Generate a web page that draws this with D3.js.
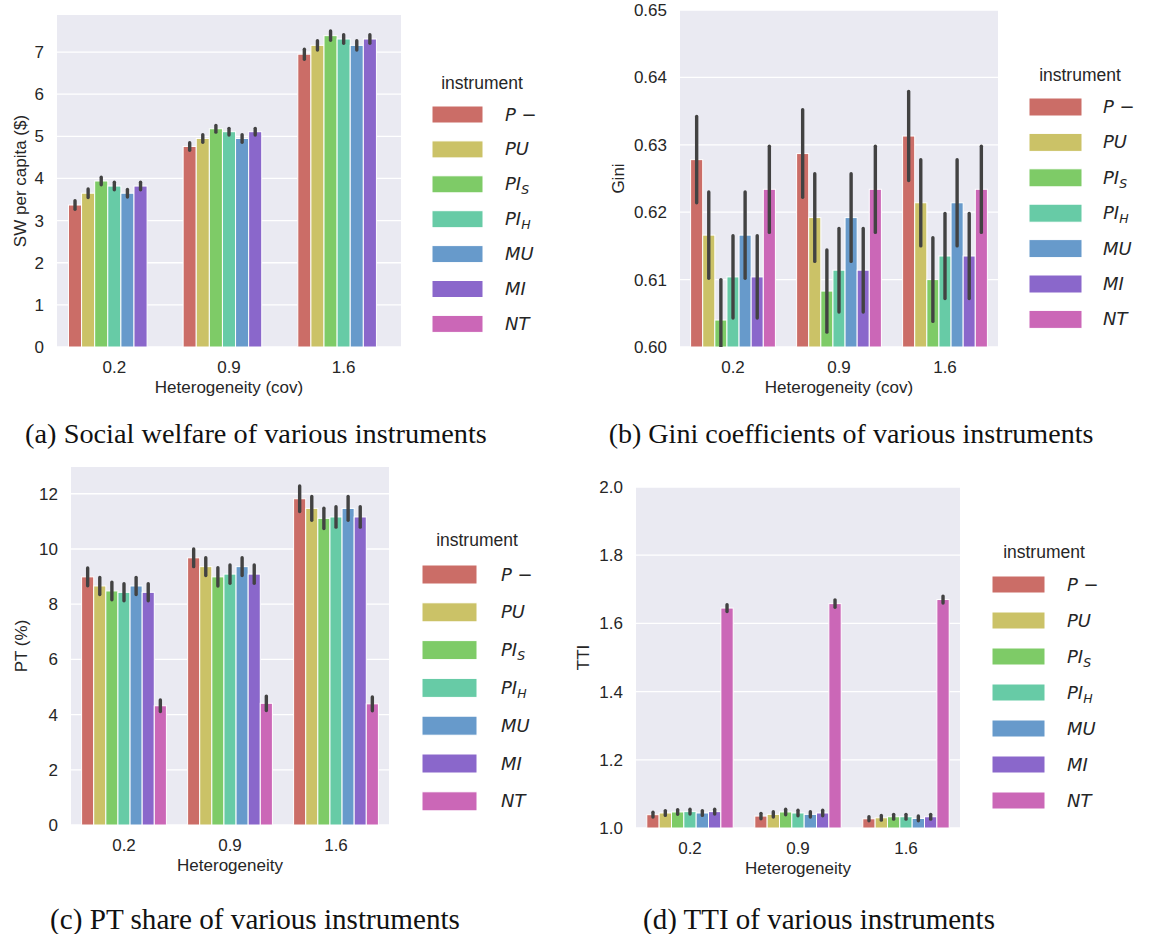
<!DOCTYPE html>
<html>
<head>
<meta charset="utf-8">
<script src="https://cdn.jsdelivr.net/npm/d3@7"></script>
<style>
  html, body { margin: 0; padding: 0; background: #fff; }
  svg { display: block; }
  .tick text { font-family: "Liberation Sans", Arial, sans-serif; }
</style>
</head>
<body>
<svg id="fig" width="1151" height="934"></svg>
<script>
// Categories and series
const groups = ["0.2", "0.9", "1.6"];
const instruments = ["P-", "PU", "PI_S", "PI_H", "MU", "MI", "NT"];
// legend text: [main, subscript]
const instrumentLabels = [["P \u2212", ""], ["PU", ""], ["PI", "S"], ["PI", "H"], ["MU", ""], ["MI", ""], ["NT", ""]];
const palette = ["#cb6d67", "#cbc267", "#7ecb67", "#67cba6", "#679acb", "#8a67cb", "#cb67b7"];

// (a) social welfare per capita, one row per heterogeneity level (NT not reported)
const swMean = [
  [3.37, 3.65, 3.94, 3.82, 3.65, 3.82, null],
  [4.76, 4.95, 5.18, 5.11, 4.95, 5.11, null],
  [6.95, 7.16, 7.39, 7.31, 7.16, 7.31, null]
];
const swErr = [
  [0.10, 0.10, 0.09, 0.09, 0.09, 0.09, null],
  [0.09, 0.09, 0.08, 0.08, 0.09, 0.08, null],
  [0.12, 0.11, 0.11, 0.10, 0.11, 0.10, null]
];
const swTicks = [0, 1, 2, 3, 4, 5, 6, 7];

// (b) Gini coefficients
const giniMean = [
  [0.6278, 0.6166, 0.6040, 0.6104, 0.6166, 0.6104, 0.6234],
  [0.6287, 0.6192, 0.6083, 0.6114, 0.6192, 0.6114, 0.6234],
  [0.6313, 0.6214, 0.6100, 0.6135, 0.6214, 0.6135, 0.6234]
];
const giniErr = [
  [0.0064, 0.0064, 0.0060, 0.0061, 0.0064, 0.0061, 0.0064],
  [0.0065, 0.0065, 0.0061, 0.0062, 0.0065, 0.0062, 0.0064],
  [0.0066, 0.0064, 0.0062, 0.0063, 0.0064, 0.0063, 0.0064]
];
const giniTicks = [0.60, 0.61, 0.62, 0.63, 0.64, 0.65];

// (c) PT share (%)
const ptMean = [
  [8.99, 8.66, 8.48, 8.43, 8.66, 8.43, 4.32],
  [9.68, 9.36, 8.99, 9.09, 9.36, 9.09, 4.41],
  [11.82, 11.47, 11.11, 11.16, 11.47, 11.16, 4.39]
];
const ptErr = [
  [0.32, 0.31, 0.32, 0.31, 0.31, 0.31, 0.21],
  [0.32, 0.32, 0.33, 0.33, 0.32, 0.33, 0.26],
  [0.46, 0.43, 0.37, 0.37, 0.43, 0.37, 0.25]
];
const ptTicks = [0, 2, 4, 6, 8, 10, 12];

// (d) TTI
const ttiMean = [
  [1.039, 1.044, 1.047, 1.048, 1.044, 1.048, 1.645],
  [1.035, 1.040, 1.047, 1.044, 1.040, 1.044, 1.658],
  [1.027, 1.030, 1.033, 1.033, 1.028, 1.033, 1.670]
];
const ttiErr = [
  [0.007, 0.007, 0.007, 0.007, 0.007, 0.007, 0.010],
  [0.008, 0.008, 0.008, 0.008, 0.008, 0.008, 0.011],
  [0.006, 0.007, 0.007, 0.007, 0.007, 0.007, 0.010]
];
const ttiTicks = [1.0, 1.2, 1.4, 1.6, 1.8, 2.0];

const SANS = '"Liberation Sans", Arial, sans-serif';
const MATH = '"DejaVu Sans", sans-serif';
const SERIF = '"Liberation Serif", "Times New Roman", serif';
const BG = "#eaeaf2";
const ERR = "#424242";

const svg = d3.select("#fig");

const panels = [
  {
    id: "a", mean: swMean, err: swErr, ticks: swTicks, fmt: d3.format("d"),
    domain: [0, 7.88], ylabel: "SW per capita ($)", xlabel: "Heterogeneity (cov)",
    box: { x0: 57, x1: 401, y0: 15, y1: 347 }, ylabX: 20,
    legend: { titleX: 482, titleY: 89, patchX: 432, patchW: 51, patchY0: 106, patchH: 17, step: 34.9, labelX: 505 },
    caption: { text: "(a) Social welfare of various instruments", cx: 256, y: 443, width: 462 }
  },
  {
    id: "b", mean: giniMean, err: giniErr, ticks: giniTicks, fmt: d3.format(".2f"),
    domain: [0.60, 0.65], ylabel: "Gini", xlabel: "Heterogeneity (cov)",
    box: { x0: 680, x1: 998, y0: 10, y1: 347 }, ylabX: 618,
    legend: { titleX: 1080, titleY: 81, patchX: 1029, patchW: 53, patchY0: 98, patchH: 18, step: 35.4, labelX: 1103 },
    caption: { text: "(b) Gini coefficients of various instruments", cx: 851, y: 443, width: 485 }
  },
  {
    id: "c", mean: ptMean, err: ptErr, ticks: ptTicks, fmt: d3.format("d"),
    domain: [0, 12.97], ylabel: "PT (%)", xlabel: "Heterogeneity",
    box: { x0: 71, x1: 389, y0: 467, y1: 825 }, ylabX: 21,
    legend: { titleX: 477, titleY: 546, patchX: 422, patchW: 55, patchY0: 565, patchH: 19, step: 37.8, labelX: 501 },
    caption: { text: "(c) PT share of various instruments", cx: 255, y: 929, width: 410 }
  },
  {
    id: "d", mean: ttiMean, err: ttiErr, ticks: ttiTicks, fmt: d3.format(".1f"),
    domain: [1.0, 2.0], ylabel: "TTI", xlabel: "Heterogeneity",
    box: { x0: 636, x1: 960, y0: 487, y1: 828 }, ylabX: 583,
    legend: { titleX: 1044, titleY: 558, patchX: 992, patchW: 53, patchY0: 576, patchH: 17, step: 36, labelX: 1067 },
    caption: { text: "(d) TTI of various instruments", cx: 819, y: 929, width: 352 }
  }
];

panels.forEach(p => drawPanel(p));

function drawPanel(p) {
  const b = p.box;
  const x = d3.scaleBand().domain(groups).range([b.x0, b.x1]).paddingInner(0.2).paddingOuter(0.1);
  const xi = d3.scaleBand().domain(instruments).range([0, x.bandwidth()]);
  const y = d3.scaleLinear().domain(p.domain).range([b.y1, b.y0]);

  const g = svg.append("g").attr("class", "panel-" + p.id);

  // plot background
  g.append("rect").attr("x", b.x0).attr("y", b.y0)
    .attr("width", b.x1 - b.x0).attr("height", b.y1 - b.y0).attr("fill", BG);

  // horizontal grid
  g.append("g").selectAll("line").data(p.ticks).join("line")
    .attr("x1", b.x0).attr("x2", b.x1)
    .attr("y1", d => y(d)).attr("y2", d => y(d))
    .attr("stroke", "#fff").attr("stroke-width", 1.3);

  const clipId = "clip-" + p.id;
  g.append("clipPath").attr("id", clipId).append("rect")
    .attr("x", b.x0).attr("y", b.y0).attr("width", b.x1 - b.x0).attr("height", b.y1 - b.y0);

  const cells = [];
  groups.forEach((grp, gi) => {
    instruments.forEach((ins, ii) => {
      const v = p.mean[gi][ii];
      if (v == null) return;
      cells.push({ grp, ins, ii, v, e: p.err[gi][ii] });
    });
  });

  const plot = g.append("g").attr("clip-path", `url(#${clipId})`);
  plot.selectAll("rect.bar").data(cells).join("rect")
    .attr("class", "bar")
    .attr("x", d => x(d.grp) + xi(d.ins))
    .attr("width", xi.bandwidth())
    .attr("y", d => y(d.v))
    .attr("height", d => y(p.domain[0]) - y(d.v))
    .attr("fill", d => palette[d.ii])
    .attr("stroke", "#fff").attr("stroke-width", 1);

  plot.selectAll("line.err").data(cells).join("line")
    .attr("class", "err")
    .attr("x1", d => x(d.grp) + xi(d.ins) + xi.bandwidth() / 2)
    .attr("x2", d => x(d.grp) + xi(d.ins) + xi.bandwidth() / 2)
    .attr("y1", d => y(d.v - d.e)).attr("y2", d => y(d.v + d.e))
    .attr("stroke", ERR).attr("stroke-width", 3.4).attr("stroke-linecap", "round");

  // axes
  const yAxis = d3.axisLeft(y).tickValues(p.ticks).tickFormat(p.fmt).tickSize(0).tickPadding(13);
  const ya = g.append("g").attr("transform", `translate(${b.x0},0)`).call(yAxis);
  ya.select(".domain").remove();
  ya.selectAll("text").attr("font-size", 17).attr("fill", "#262626").style("font-family", SANS);

  const xAxis = d3.axisBottom(x).tickSize(0).tickPadding(14);
  const xa = g.append("g").attr("transform", `translate(0,${b.y1})`).call(xAxis);
  xa.select(".domain").remove();
  xa.selectAll("text").attr("font-size", 17).attr("fill", "#262626").style("font-family", SANS);

  g.append("text")
    .attr("x", (b.x0 + b.x1) / 2).attr("y", b.y1 + 46)
    .attr("text-anchor", "middle").attr("font-size", 17).attr("fill", "#262626")
    .style("font-family", SANS).text(p.xlabel);

  g.append("text")
    .attr("transform", `translate(${p.ylabX + 6},${(b.y0 + b.y1) / 2}) rotate(-90)`)
    .attr("text-anchor", "middle").attr("font-size", 17).attr("fill", "#262626")
    .style("font-family", SANS).text(p.ylabel);

  // legend
  const L = p.legend;
  const lg = g.append("g").attr("class", "legend");
  lg.append("text").attr("x", L.titleX).attr("y", L.titleY)
    .attr("text-anchor", "middle").attr("font-size", 17.5).attr("fill", "#262626")
    .style("font-family", SANS).text("instrument");
  const items = lg.selectAll("g.item").data(instruments).join("g").attr("class", "item")
    .attr("transform", (d, i) => `translate(0,${L.patchY0 + i * L.step})`);
  items.append("rect").attr("x", L.patchX).attr("y", 0)
    .attr("width", L.patchW).attr("height", L.patchH)
    .attr("fill", (d, i) => palette[i]).attr("stroke", "#fff").attr("stroke-width", 1);
  const lt = items.append("text").attr("x", L.labelX).attr("y", L.patchH / 2 + 6)
    .attr("font-size", 18).attr("font-style", "italic").attr("fill", "#262626")
    .style("font-family", MATH);
  lt.each(function (d, i) {
    const t = d3.select(this);
    const [main, sub] = instrumentLabels[i];
    t.append("tspan").text(main);
    if (sub) t.append("tspan").attr("font-size", 12.5).attr("dy", 4).text(sub);
  });

  // caption, sized to its column width
  const cap = svg.append("text")
    .attr("x", p.caption.cx).attr("y", p.caption.y)
    .attr("text-anchor", "middle").attr("font-size", 24).attr("fill", "#111")
    .style("font-family", SERIF).text(p.caption.text);
  const w = cap.node().getComputedTextLength();
  if (w > 0) cap.attr("font-size", 24 * p.caption.width / w);
}
</script>
</body>
</html>
